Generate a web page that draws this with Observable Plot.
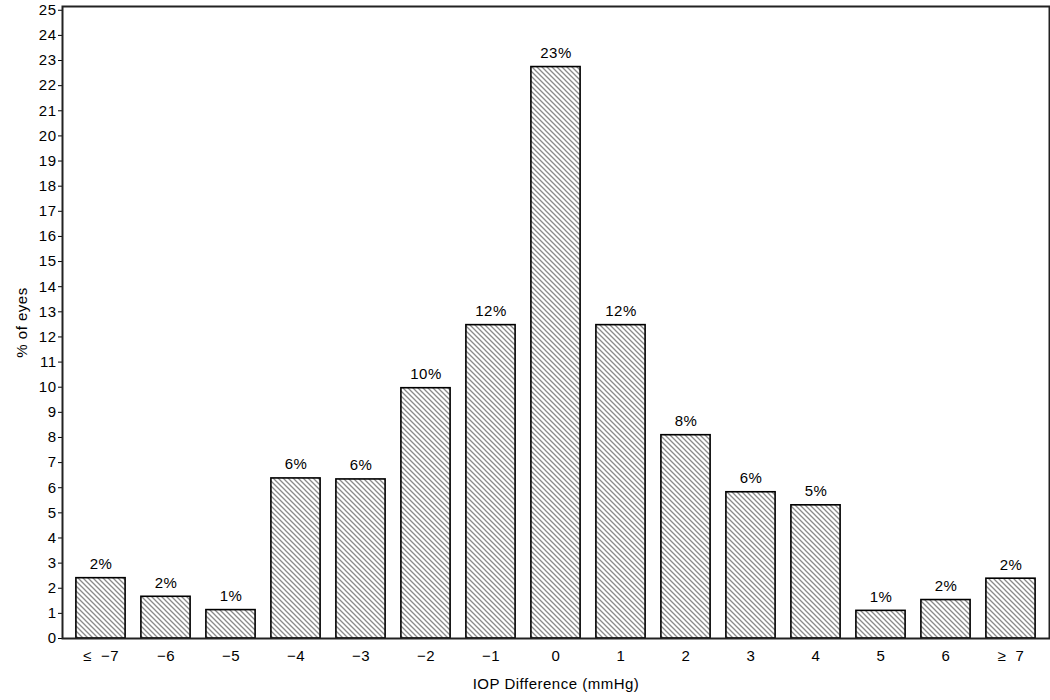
<!DOCTYPE html>
<html>
<head>
<meta charset="utf-8">
<script src="https://cdn.jsdelivr.net/npm/d3@7"></script>
<script src="https://cdn.jsdelivr.net/npm/@observablehq/plot@0.6"></script>
<style>
  html, body { margin: 0; padding: 0; background: #fff; }
  svg { display: block; }
  svg text { letter-spacing: 0.5px; }
</style>
</head>
<body>
<div id="chart"></div>
<script>
const categories = ["≤  −7", "−6", "−5", "−4", "−3", "−2", "−1", "0", "1", "2", "3", "4", "5", "6", "≥  7"];
const percents = [2.40, 1.66, 1.13, 6.37, 6.33, 9.96, 12.47, 22.74, 12.47, 8.09, 5.82, 5.30, 1.10, 1.53, 2.38];
const barLabels = ["2%", "2%", "1%", "6%", "6%", "10%", "12%", "23%", "12%", "8%", "6%", "5%", "1%", "2%", "2%"];
const yTicks = d3.range(0, 26);

const data = categories.map((c, i) => ({cat: c, pct: percents[i], label: barLabels[i]}));

const chart = Plot.plot({
  width: 1050,
  height: 700,
  marginLeft: 62,
  marginRight: 1,
  marginTop: 6,
  marginBottom: 62,
  style: {fontFamily: "'Liberation Sans', Arial, sans-serif", fontSize: "15px", color: "#000", background: "#fff"},
  x: {domain: categories, padding: 0, range: [62, 1049], label: null},
  y: {domain: [0, 25.15], range: [638, 6], label: null},
  marks: [
    Plot.barY(data, {x: "cat", y: "pct", fill: "url(#hatch)", stroke: "#000", strokeWidth: 1.6, insetLeft: 7.9, insetRight: 7.9}),
    Plot.text(data, {x: "cat", y: "pct", text: "label", dy: -14, fontSize: 15, fill: "#000"}),
    Plot.axisY({ticks: yTicks, tickSize: 4, tickPadding: 2, tickFormat: d => String(d), fontSize: 15,
      label: "% of eyes", labelAnchor: "center", labelArrow: "none", labelOffset: 46, stroke: "#000"}),
    Plot.axisX({tickSize: 0, tickPadding: 12, fontSize: 15,
      label: "IOP Difference (mmHg)", labelAnchor: "center", labelArrow: "none", labelOffset: 50}),
    Plot.frame({stroke: "#222", strokeWidth: 2})
  ]
});

const svg = d3.select(chart);
const defs = svg.insert("defs", ":first-child");
const pat = defs.append("pattern")
  .attr("id", "hatch")
  .attr("patternUnits", "userSpaceOnUse")
  .attr("width", 5).attr("height", 5);
pat.append("rect").attr("width", 5).attr("height", 5).attr("fill", "#fff");
pat.append("path")
  .attr("d", "M-1,-1 L6,6 M-1,4 L1,6 M4,-1 L6,1")
  .attr("stroke", "#8a8a8a").attr("stroke-width", 1.3);

document.getElementById("chart").appendChild(chart);
</script>
</body>
</html>
